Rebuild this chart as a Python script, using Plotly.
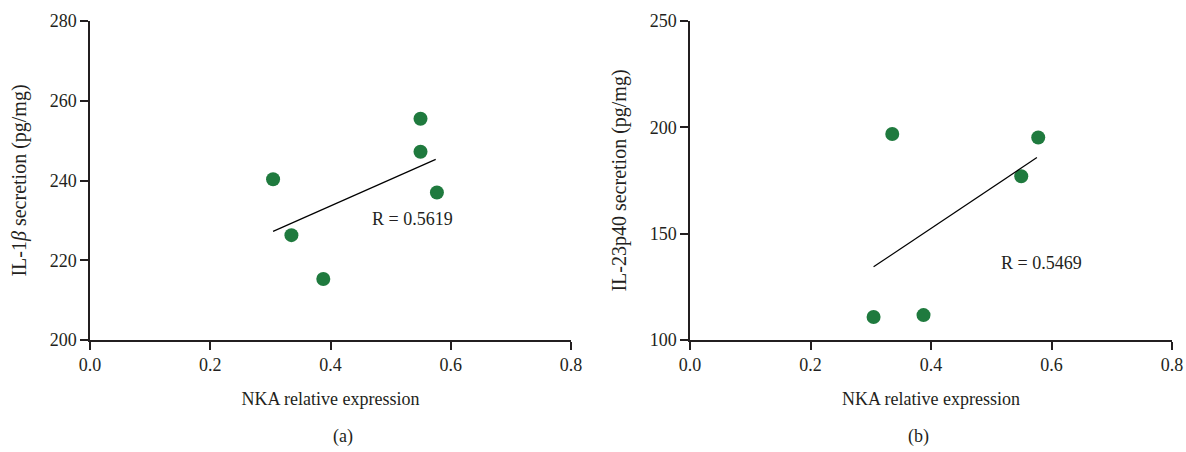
import plotly.graph_objects as go

# Panel (a): IL-1beta
nka_a = [0.3045, 0.335, 0.388, 0.5497, 0.5497, 0.577]
il1b = [240.3, 226.3, 215.3, 255.5, 247.2, 237.0]
fit_a_x = [0.3045, 0.575]
fit_a_y = [227.25, 245.3]
r_a = "R = 0.5619"

# Panel (b): IL-23p40
nka_b = [0.3047, 0.3357, 0.3876, 0.5498, 0.578]
il23 = [110.8, 196.9, 111.7, 177.0, 195.2]
fit_b_x = [0.3047, 0.5758]
fit_b_y = [134.4, 185.8]
r_b = "R = 0.5469"

x_ticks = [0.0, 0.2, 0.4, 0.6, 0.8]
x_ticklabels = ["0.0", "0.2", "0.4", "0.6", "0.8"]
y_ticks_a = [200, 220, 240, 260, 280]
y_ticks_b = [100, 150, 200, 250]

W, H = 1186, 452
FONT = "Liberation Serif"
INK = "#231f20"
GREEN = "#1f7a3e"

fig = go.Figure()
fig.add_trace(go.Scatter(x=nka_a, y=il1b, mode="markers",
                         marker=dict(size=14, color=GREEN), xaxis="x", yaxis="y", showlegend=False))
fig.add_trace(go.Scatter(x=fit_a_x, y=fit_a_y, mode="lines",
                         line=dict(color="black", width=1.2), xaxis="x", yaxis="y", showlegend=False))
fig.add_trace(go.Scatter(x=nka_b, y=il23, mode="markers",
                         marker=dict(size=14, color=GREEN), xaxis="x2", yaxis="y2", showlegend=False))
fig.add_trace(go.Scatter(x=fit_b_x, y=fit_b_y, mode="lines",
                         line=dict(color="black", width=1.2), xaxis="x2", yaxis="y2", showlegend=False))

mt, mb = 21, 452 - 340.5
plot_h = H - mt - mb

def xax(domain, anchor):
    return dict(domain=domain, anchor=anchor, range=[0, 0.8], tickvals=x_ticks, ticktext=x_ticklabels,
                showline=True, linecolor=INK, linewidth=1.5, ticks="outside", ticklen=8, tickwidth=1.5,
                tickcolor=INK, showgrid=False, zeroline=False, automargin=False,
                tickfont=dict(family=FONT, size=18, color=INK),
                title=dict(text="NKA relative expression", font=dict(family=FONT, size=18, color=INK), standoff=18))

def yax(domain_anchor, rng, ticks, title):
    return dict(domain=[0, 1], anchor=domain_anchor, range=rng, tickvals=ticks,
                showline=True, linecolor=INK, linewidth=1.5, ticks="outside", ticklen=8, tickwidth=1.5,
                tickcolor=INK, showgrid=False, zeroline=False, automargin=False,
                tickfont=dict(family=FONT, size=18, color=INK),
                title=dict(text=title, font=dict(family=FONT, size=20, color=INK), standoff=18))

fig.update_layout(
    width=W, height=H,
    margin=dict(l=0, r=0, t=mt, b=mb),
    plot_bgcolor="white", paper_bgcolor="white",
    xaxis=xax([90 / W, 571 / W], "y"),
    yaxis=yax("x", [200, 280], y_ticks_a, "IL-1<i>β</i> secretion (pg/mg)"),
    xaxis2=xax([690 / W, 1172 / W], "y2"),
    yaxis2=yax("x2", [100, 250], y_ticks_b, "IL-23p40 secretion (pg/mg)"),
    annotations=[
        dict(x=0.537, y=230.3, xref="x", yref="y", text=r_a, showarrow=False,
             font=dict(family=FONT, size=18, color=INK)),
        dict(x=0.583, y=136.25, xref="x2", yref="y2", text=r_b, showarrow=False,
             font=dict(family=FONT, size=18, color=INK)),
        dict(x=(90 + 571) / 2 / W, y=-(437 - 340.5) / plot_h, xref="paper", yref="paper",
             text="(a)", showarrow=False, yanchor="middle", font=dict(family=FONT, size=18, color=INK)),
        dict(x=(690 + 1172) / 2 / W, y=-(437 - 340.5) / plot_h, xref="paper", yref="paper",
             text="(b)", showarrow=False, yanchor="middle", font=dict(family=FONT, size=18, color=INK)),
    ],
)

fig.write_html("out.html", config={"displayModeBar": False},
               post_script="document.body.style.margin='0';document.body.style.overflow='hidden';")
